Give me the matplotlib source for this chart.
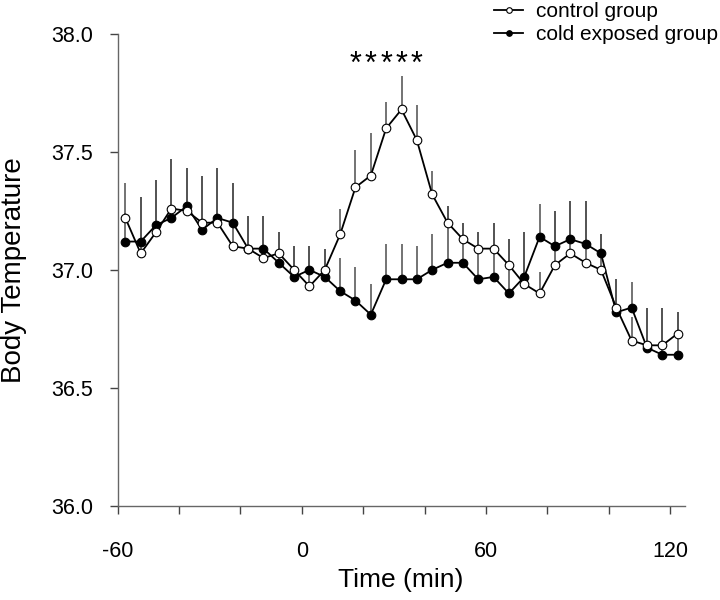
import matplotlib
matplotlib.use("Agg")
import matplotlib.pyplot as plt
import numpy as np

plt.rcParams['font.family'] = ['Liberation Sans', 'DejaVu Sans']

time_min = [-57.5, -52.5, -47.5, -42.5, -37.5, -32.5, -27.5, -22.5, -17.5, -12.5,
            -7.5, -2.5, 2.5, 7.5, 12.5, 17.5, 22.5, 27.5, 32.5, 37.5,
            42.5, 47.5, 52.5, 57.5, 62.5, 67.5, 72.5, 77.5, 82.5, 87.5,
            92.5, 97.5, 102.5, 107.5, 112.5, 117.5, 122.5]

control_mean = [37.22, 37.07, 37.16, 37.26, 37.25, 37.20, 37.20, 37.10, 37.09, 37.05,
                37.07, 37.00, 36.93, 37.00, 37.15, 37.35, 37.40, 37.60, 37.68, 37.55,
                37.32, 37.20, 37.13, 37.09, 37.09, 37.02, 36.94, 36.90, 37.02, 37.07,
                37.03, 37.00, 36.84, 36.70, 36.68, 36.68, 36.73]
control_sem = [0.15, 0.24, 0.22, 0.21, 0.18, 0.20, 0.23, 0.27, 0.14, 0.18,
               0.09, 0.10, 0.17, 0.09, 0.11, 0.16, 0.18, 0.11, 0.14, 0.15,
               0.10, 0.07, 0.07, 0.07, 0.11, 0.11, 0.22, 0.09, 0.23, 0.22,
               0.26, 0.15, 0.12, 0.10, 0.16, 0.16, 0.09]

cold_mean = [37.12, 37.12, 37.19, 37.22, 37.27, 37.17, 37.22, 37.20, 37.09, 37.09,
             37.03, 36.97, 37.00, 36.97, 36.91, 36.87, 36.81, 36.96, 36.96, 36.96,
             37.00, 37.03, 37.03, 36.96, 36.97, 36.90, 36.97, 37.14, 37.10, 37.13,
             37.11, 37.07, 36.82, 36.84, 36.67, 36.64, 36.64]
cold_sem = [0.12, 0.19, 0.19, 0.25, 0.16, 0.23, 0.21, 0.17, 0.14, 0.14,
            0.13, 0.13, 0.10, 0.12, 0.14, 0.14, 0.13, 0.15, 0.15, 0.14,
            0.15, 0.24, 0.17, 0.20, 0.23, 0.23, 0.19, 0.14, 0.15, 0.16,
            0.18, 0.08, 0.14, 0.11, 0.17, 0.20, 0.18]

signif_times = [17.5, 22.5, 27.5, 32.5, 37.5]
signif_level = 37.87

x_ticks = [-60, -40, -20, 0, 20, 40, 60, 80, 100, 120]
x_ticklabels = ['-60', '', '', '0', '', '', '60', '', '', '120']
y_ticks = [36.0, 36.5, 37.0, 37.5, 38.0]

W, H = 720, 600
fig = plt.figure(figsize=(W / 100, H / 100), dpi=100)
ax_left, ax_right, ax_top, ax_bottom = 117.7, 685, 34, 505.7
ax = fig.add_axes([ax_left / W, 1 - ax_bottom / H, (ax_right - ax_left) / W, (ax_bottom - ax_top) / H])

t = np.array(time_min)
zeros = np.zeros(len(t))
ax.errorbar(t, cold_mean, yerr=[zeros, cold_sem], fmt='none', ecolor='#4d4d4d',
            elinewidth=1.1, capsize=0, zorder=1)
ax.errorbar(t, control_mean, yerr=[zeros, control_sem], fmt='none', ecolor='#4d4d4d',
            elinewidth=1.1, capsize=0, zorder=1)
ax.plot(t, cold_mean, '-', color='black', lw=1.3, marker='o', markersize=6.2,
        markerfacecolor='black', markeredgecolor='black', markeredgewidth=0.8,
        label='cold exposed group', zorder=3)
ax.plot(t, control_mean, '-', color='black', lw=1.3, marker='o', markersize=6.2,
        markerfacecolor='white', markeredgecolor='black', markeredgewidth=0.8,
        label='control group', zorder=4)

for st in signif_times:
    ax.text(st, signif_level, '*', ha='center', va='center', fontsize=22)

ax.set_xlim(-60, 124.9)
ax.set_ylim(36.0, 38.0)
ax.set_xticks(x_ticks)
ax.set_xticklabels(x_ticklabels)
ax.set_yticks(y_ticks)
ax.set_yticklabels([f'{v:.1f}' for v in y_ticks])
for s in ['top', 'right']:
    ax.spines[s].set_visible(False)
for s in ['left', 'bottom']:
    ax.spines[s].set_color('#666666')
    ax.spines[s].set_linewidth(1.0)
ax.tick_params(axis='both', direction='out', length=5.5, width=1.0, color='#444444',
               labelsize=15.5)
ax.tick_params(axis='y', pad=12)
ax.tick_params(axis='x', pad=20)

fig.text(401 / W, 1 - 580 / H, 'Time (min)', ha='center', va='center', fontsize=19)
fig.text(14 / W, 1 - 270 / H, 'Body Temperature', ha='center', va='center',
         rotation=90, fontsize=20)

handles, labels = ax.get_legend_handles_labels()
order = [1, 0]
fig.legend([handles[i] for i in order], [labels[i] for i in order],
           loc='upper right', bbox_to_anchor=(1.0, 1.0), frameon=False,
           fontsize=15, handlelength=1.4, handletextpad=0.6, labelspacing=0.2,
           markerscale=0.65, borderpad=0.1, borderaxespad=0.0)

fig.savefig('out.png', dpi=100)
